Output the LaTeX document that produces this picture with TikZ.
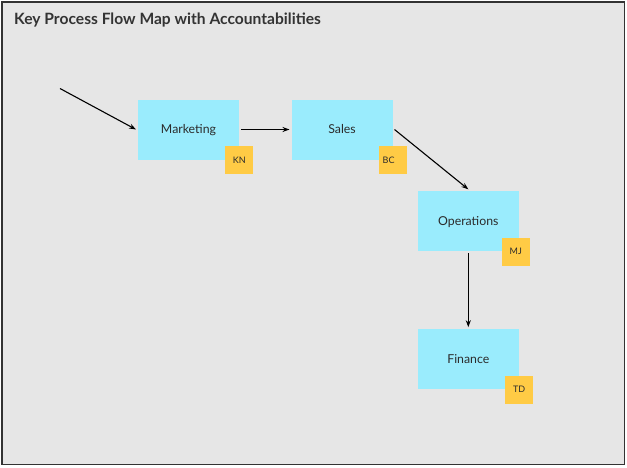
\documentclass[tikz,border=0pt]{standalone}
\usepackage{fontspec}
\setmainfont{Lato}
\usetikzlibrary{arrows.meta}
\definecolor{bgray}{HTML}{E6E6E6}
\definecolor{frame}{HTML}{333333}
\definecolor{boxblue}{HTML}{9AECFD}
\definecolor{tagyellow}{HTML}{FFCB45}
\definecolor{txt}{HTML}{2B2B2B}
\tikzset{
  procbox/.style={fill=boxblue, draw=none, minimum width=101pt, minimum height=60pt, inner sep=0pt, outer sep=2pt, text=txt, text height=8.8pt, text depth=0pt, font=\fontsize{12.3}{14}\selectfont},
  tagbox/.style={fill=tagyellow, draw=none, minimum width=28pt, minimum height=28pt, inner sep=0pt, text=txt, text height=6.4pt, text depth=0pt, font=\fontsize{9}{10}\selectfont},
  flow/.style={draw=black, line width=1.1pt, -{Stealth[length=7pt,width=5pt]}}
}
\begin{document}
\begin{tikzpicture}[x=1pt,y=-1pt]
\useasboundingbox (0,0) rectangle (627,467);
\draw[fill=bgray, draw=frame, line width=1.5pt] (2,2) rectangle (624.5,464.5);
\node[anchor=base west, inner sep=0pt, text=frame, font=\fontsize{15.6}{17}\selectfont\bfseries] (title) at (14,24.5) {Key Process Flow Map with Accountabilities};

\node[procbox] (mkt) at (188.5,129.5) {Marketing};
\node[procbox] (sales) at (342,129.5) {Sales};
\node[procbox] (ops) at (468.3,221.3) {Operations};
\node[procbox] (fin) at (468.3,359.2) {Finance};

\node[tagbox] (kn) at (239.2,160) {KN};
\node[tagbox] (bc) at (392.5,160) {};
\node[anchor=west, inner sep=0pt, text=txt, text height=6.4pt, text depth=0pt, font=\fontsize{9}{10}\selectfont] (bct) at (382.5,160) {BC};
\node[tagbox] (mj) at (515.8,251.7) {MJ};
\node[tagbox] (td) at (519.2,389.5) {TD};

\coordinate (start) at (60,88.5);
\draw[flow] (start) -- (mkt.west);
\draw[flow] (mkt.east) -- (sales.west);
\draw[flow] (sales.east) -- (ops.north);
\draw[flow] (ops.south) -- (fin.north);
\end{tikzpicture}
\end{document}
